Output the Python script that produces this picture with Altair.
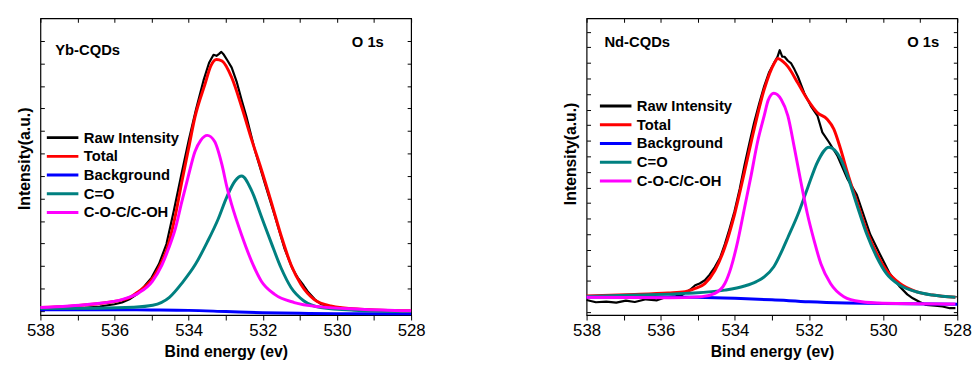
import altair as alt
import pandas as pd

FONT = "Liberation Sans"
SERIES = ["Raw Intensity", "Total", "Background", "C=O", "C-O-C/C-OH"]
COLORS = ["#000000", "#ff0000", "#0000ff", "#008080", "#ff00ff"]
WIDTHS = [2.2, 3, 3, 3, 3]
X_TICKS = [538, 537, 536, 535, 534, 533, 532, 531, 530, 529, 528]

# ---------------- Yb-CQDs ----------------
yb_raw_e = [538.0, 537.6, 537.2, 536.8, 536.4, 536.0, 535.8, 535.6, 535.4, 535.2, 535.0, 534.8,
            534.6, 534.4, 534.2, 534.0, 533.8, 533.6, 533.45, 533.33, 533.25, 533.18, 533.12,
            533.05, 532.95, 532.84, 532.7, 532.57, 532.44, 532.22, 531.95, 531.68, 531.42, 531.2,
            531.06, 530.9, 530.79, 530.6, 530.43, 530.0, 529.56, 529.0, 528.5, 528.0]
yb_raw_i = [6.3, 6.0, 6.7, 7.3, 8.7, 11, 12.7, 16, 21, 29, 38, 52,
            72, 106, 142, 177, 209, 238, 256, 264, 263, 265, 267,
            264, 258, 251, 236, 218, 201, 168, 134, 101, 68, 47,
            38, 30, 24, 16, 11, 7.5, 6, 5, 4.3, 4]

yb_tot_e = [538.0, 537.1, 536.2, 535.6, 535.34, 535.03, 534.81, 534.58, 534.36, 534.19, 534.01,
            533.83, 533.56, 533.4, 533.25, 533.1, 532.84, 532.57, 532.3, 532.04, 531.77, 531.51,
            531.24, 530.97, 530.62, 530.17, 529.38, 528.0]
yb_tot_i = [7.7, 9.3, 12.7, 17.7, 24.3, 34.3, 47.7, 67.7, 101, 134.3, 167.7,
            201, 234.3, 253, 259.3, 257.7, 241, 211, 177.7, 147.7, 114.3, 81,
            51, 31, 16, 9.3, 6, 4.3]

yb_bg_e = [538, 536, 535, 534, 533, 532, 531, 530, 528]
yb_bg_i = [5.5, 5.4, 5.2, 4.8, 3.6, 2.4, 1.8, 1.5, 1.3]

yb_co_e = [538.0, 536.5, 535.5, 534.97, 534.52, 534.17, 533.81, 533.5, 533.21, 532.97, 532.75,
           532.57, 532.3, 532.04, 531.77, 531.51, 531.24, 530.89, 530.44, 529.55, 528.0]
yb_co_i = [6.7, 7, 8, 10, 18, 33, 52, 74, 97, 120, 136,
           141, 126, 100, 73, 48, 28, 14.3, 7.7, 5, 3.7]

yb_coc_e = [538.0, 536.67, 535.78, 535.34, 534.98, 534.72, 534.54, 534.36, 534.19, 534.01, 533.83,
            533.68, 533.5, 533.3, 533.1, 532.97, 532.84, 532.57, 532.3, 532.04, 531.68, 531.15,
            530.44, 529.38, 528.0]
yb_coc_i = [7.7, 11, 16, 22.7, 34.3, 51, 67.7, 87.7, 114.3, 141, 166,
            177, 182.3, 176, 152, 130, 112, 81, 54.3, 34.3, 21, 12.7,
            8.3, 6, 4.3]

yb_ann_text = ["Yb-CQDs", "O 1s"]
yb_ann_e = [537.6, 529.6]
yb_ann_i = [268.5, 277]
yb_yticks = [4, 27, 50, 73, 95, 118, 141, 164, 187, 210, 232, 255, 278]

# ---------------- Nd-CQDs ----------------
nd_raw_e = [538.0, 537.75, 537.47, 537.2, 536.94, 536.7, 536.4, 536.1, 535.87, 535.6, 535.43,
            535.2, 535.07, 534.95, 534.81, 534.68, 534.54, 534.4, 534.27, 534.14, 534.01, 533.87,
            533.74, 533.61, 533.48, 533.34, 533.21, 533.08, 532.94, 532.85, 532.79, 532.72,
            532.66, 532.57, 532.48, 532.39, 532.3, 532.13, 531.95, 531.77, 531.64, 531.46,
            531.24, 530.97, 530.71, 530.53, 530.35, 530.09, 529.82, 529.55, 529.35, 529.2,
            529.0, 528.84, 528.6, 528.4, 528.2, 528.05]
nd_raw_i = [15.3, 13, 13.7, 12.7, 14.7, 13.3, 16, 15, 18, 19, 20.3,
            26, 30.3, 32, 35.3, 41, 48.7, 58, 72, 88, 105.3, 128,
            152, 174, 195.3, 215, 232, 246, 256, 262, 268.7, 262,
            262, 258, 255.3, 249, 242, 225.3, 212, 202, 185.3, 175.3,
            162, 138.7, 122, 102, 82, 62, 42, 28.7, 21, 17,
            13, 10.3, 9.5, 8.7, 7, 7]

nd_tot_e = [538.0, 536.7, 535.8, 535.34, 535.07, 534.81, 534.54, 534.27, 534.01, 533.74, 533.48,
            533.21, 532.94, 532.84, 532.7, 532.57, 532.3, 532.04, 531.77, 531.51, 531.33, 531.15,
            530.97, 530.71, 530.44, 530.17, 529.91, 529.55, 529.11, 528.67, 528.05]
nd_tot_i = [19.5, 21, 22.5, 23.7, 27, 32, 45.3, 68.7, 102, 145.3, 188.7,
            228.7, 255.3, 260.3, 257, 252, 235.3, 218.7, 205.3, 198.7, 188.7, 168.7,
            145.3, 115.3, 85.3, 62, 45.3, 32, 23.7, 20.3, 18]

nd_bg_e = [538, 536, 535, 534, 533, 532, 531, 530, 528]
nd_bg_i = [18.4, 18.3, 18, 17, 15.5, 13.5, 12.3, 11.7, 11]

nd_co_e = [538.0, 536.67, 535.34, 534.27, 533.74, 533.42, 533.2, 532.95, 532.7, 532.57, 532.3,
           532.04, 531.77, 531.46, 531.15, 530.97, 530.71, 530.44, 530.17, 529.91, 529.55,
           529.11, 528.67, 528.05]
nd_co_i = [19, 20.3, 22, 25.3, 29.5, 34, 39, 49, 67.7, 78.7, 102,
           128.7, 155.3, 170.3, 158.7, 142, 112, 82, 58.7, 42, 30.3,
           23.7, 20.3, 18]

nd_coc_e = [538.0, 535.78, 534.89, 534.54, 534.27, 534.1, 533.92, 533.74, 533.56, 533.39, 533.21,
            533.1, 532.95, 532.75, 532.57, 532.39, 532.22, 532.04, 531.86, 531.68, 531.42,
            531.06, 530.62, 530.0, 528.05]
nd_coc_i = [18, 17.5, 18.7, 22, 32, 48.7, 75.3, 108.7, 142, 175.3, 202,
            218, 225, 218.7, 202, 168.7, 135.3, 102, 75.3, 52, 32,
            18.7, 13.7, 12, 11.3]

nd_ann_text = ["Nd-CQDs", "O 1s"]
nd_ann_e = [537.52, 529.35]
nd_ann_i = [277, 277]
nd_yticks = [3, 19, 35, 50, 66, 82, 98, 114, 129, 145, 161, 177, 193, 208, 224, 240, 256, 272, 287]


def panel(curves, ann_text, ann_e, ann_i, yticks, leg_x, leg_y, title_y):
    rows = []
    for name, (es, vs) in zip(SERIES, curves):
        for e, v in zip(es, vs):
            rows.append({"series": name, "E": e, "I": v})
    df = pd.DataFrame(rows)

    xscale = alt.Scale(domain=[528, 538], reverse=True, nice=False, zero=False)
    yscale = alt.Scale(domain=[0, 301], nice=False, zero=False)

    x_axis = alt.Axis(
        orient="bottom", title="Bind energy (ev)", values=X_TICKS,
        labelExpr="datum.value % 2 == 0 ? datum.label : ''",
        labelFlush=False, labelOverlap=False, labelFontSize=17, labelPadding=3,
        tickSize=5, tickColor="black", domain=False, grid=False,
        titleFontSize=16, titleFontWeight="bold", titlePadding=5)
    y_axis = alt.Axis(
        orient="left", title="Intensity(a.u.)", labels=False, values=yticks, tickSize=4, offset=-4,
        tickColor="black", domain=False, grid=False,
        titleFontSize=16, titleFontWeight="bold", titlePadding=8, titleY=title_y)
    color = alt.Color("series:N", scale=alt.Scale(domain=SERIES, range=COLORS),
                      legend=alt.Legend(
                          title=None, orient="none", legendX=leg_x, legendY=leg_y,
                          symbolType="stroke", symbolSize=1024, symbolStrokeWidth=3,
                          labelFontSize=15, labelFontWeight="bold", labelFont=FONT,
                          labelColor="black", labelOffset=4, clipHeight=19,
                          rowPadding=0, padding=0))

    layers = []
    for k, (name, w) in enumerate(zip(SERIES, WIDTHS)):
        x = alt.X("E:Q", scale=xscale, axis=x_axis if k == 0 else None)
        y = alt.Y("I:Q", scale=yscale, axis=y_axis if k == 0 else None)
        layers.append(
            alt.Chart(df).transform_filter(alt.datum.series == name)
            .mark_line(strokeWidth=w, interpolate="linear" if name == "Raw Intensity" else "monotone",
                       strokeJoin="round")
            .encode(x=x, y=y, color=color)
        )

    ann = pd.DataFrame({"label": ann_text, "E": ann_e, "I": ann_i})
    text = alt.Chart(ann).mark_text(align="left", baseline="middle", fontSize=15,
                                    fontWeight="bold", font=FONT, color="black").encode(
        x=alt.X("E:Q", scale=xscale, axis=alt.Axis(
            orient="top", title=None, labels=False, values=X_TICKS, tickSize=4, offset=-4,
            tickColor="black", domain=False, grid=False)),
        y=alt.Y("I:Q", scale=yscale, axis=alt.Axis(
            orient="right", title=None, labels=False, values=yticks, tickSize=4, offset=-4,
            tickColor="black", domain=False, grid=False)),
        text="label:N")
    return alt.layer(*layers, text).properties(width=376, height=301)


left = panel([(yb_raw_e, yb_raw_i), (yb_tot_e, yb_tot_i), (yb_bg_e, yb_bg_i),
              (yb_co_e, yb_co_i), (yb_coc_e, yb_coc_i)],
             yb_ann_text, yb_ann_e, yb_ann_i, yb_yticks, 5, 111.5, 142)
right = panel([(nd_raw_e, nd_raw_i), (nd_tot_e, nd_tot_i), (nd_bg_e, nd_bg_i),
               (nd_co_e, nd_co_i), (nd_coc_e, nd_coc_i)],
              nd_ann_text, nd_ann_e, nd_ann_i, nd_yticks, 12, 79.5, 137)

chart = (alt.hconcat(left, right, spacing=137)
         .resolve_scale(color="independent")
         .resolve_legend(color="independent")
         .properties(padding={"left": 15, "top": 14, "right": 5, "bottom": 0},
                     background="white")
         .configure_axis(labelFont=FONT, titleFont=FONT, labelColor="black", titleColor="black")
         .configure_view(stroke="black", strokeWidth=1.2))

chart.save("out.html", embed_options={"renderer": "svg", "actions": False})
